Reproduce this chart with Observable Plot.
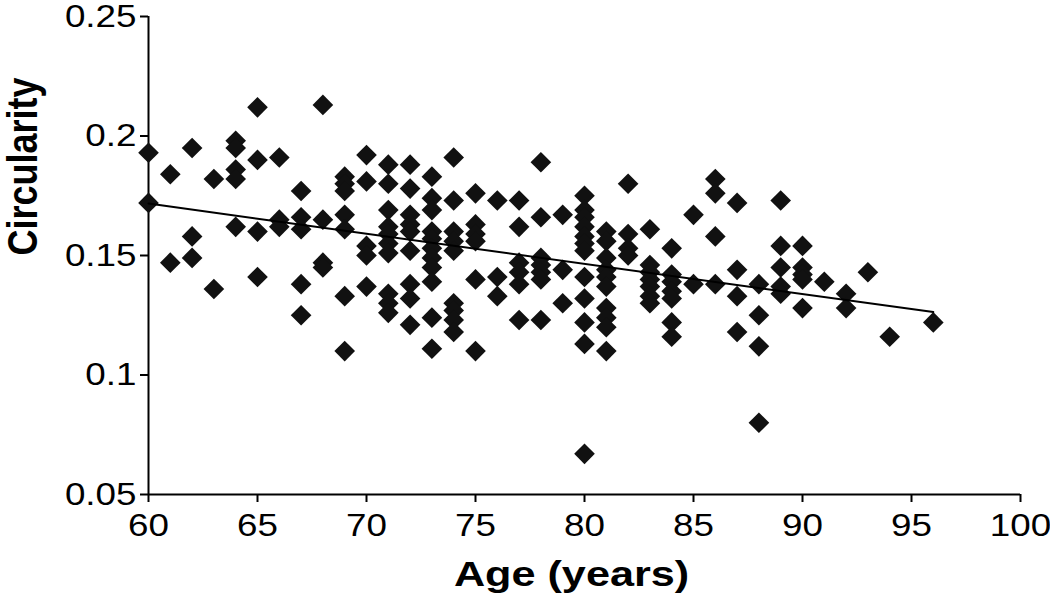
<!DOCTYPE html>
<html>
<head>
<meta charset="utf-8">
<script src="https://cdn.jsdelivr.net/npm/d3@7"></script>
<script src="https://cdn.jsdelivr.net/npm/@observablehq/plot@0.6"></script>
<style>
  html, body { margin: 0; padding: 0; background: #fff; }
</style>
</head>
<body>
<div id="chart"></div>
<script>
// Age (years) of each subject
const ages = [
  60, 60,
  61, 61,
  62, 62, 62,
  63, 63,
  64, 64, 64, 64, 64,
  65, 65, 65, 65,
  66, 66, 66,
  67, 67, 67, 67, 67,
  68, 68, 68, 68,
  69, 69, 69, 69, 69, 69, 69,
  70, 70, 70, 70, 70,
  71, 71, 71, 71, 71, 71, 71, 71, 71, 71,
  72, 72, 72, 72, 72, 72, 72, 72, 72,
  73, 73, 73, 73, 73, 73, 73, 73, 73, 73, 73,
  74, 74, 74, 74, 74, 74, 74, 74, 74,
  75, 75, 75, 75, 75, 75,
  76, 76, 76,
  77, 77, 77, 77, 77, 77,
  78, 78, 78, 78, 78, 78, 78,
  79, 79, 79,
  80, 80, 80, 80, 80, 80, 80, 80, 80, 80, 80, 80,
  81, 81, 81, 81, 81, 81, 81, 81, 81, 81,
  82, 82, 82, 82,
  83, 83, 83, 83, 83, 83, 83,
  84, 84, 84, 84, 84, 84, 84,
  85, 85,
  86, 86, 86, 86,
  87, 87, 87, 87,
  88, 88, 88, 88,
  89, 89, 89, 89, 89,
  90, 90, 90, 90, 90,
  91,
  92, 92,
  93,
  94,
  96
];
// Circularity of each subject (same order as ages)
const circularity = [
  0.193, 0.172,
  0.184, 0.147,
  0.195, 0.158, 0.149,
  0.182, 0.136,
  0.198, 0.195, 0.186, 0.182, 0.162,
  0.212, 0.190, 0.160, 0.141,
  0.191, 0.165, 0.162,
  0.177, 0.166, 0.161, 0.138, 0.125,
  0.213, 0.165, 0.147, 0.145,
  0.183, 0.180, 0.177, 0.167, 0.161, 0.133, 0.110,
  0.192, 0.181, 0.154, 0.150, 0.137,
  0.188, 0.180, 0.169, 0.162, 0.159, 0.155, 0.151, 0.134, 0.130, 0.126,
  0.188, 0.178, 0.167, 0.163, 0.160, 0.152, 0.138, 0.132, 0.121,
  0.183, 0.174, 0.169, 0.160, 0.157, 0.153, 0.149, 0.145, 0.139, 0.124, 0.111,
  0.191, 0.173, 0.160, 0.156, 0.152, 0.130, 0.127, 0.123, 0.118,
  0.176, 0.163, 0.159, 0.156, 0.140, 0.110,
  0.173, 0.141, 0.133,
  0.173, 0.162, 0.147, 0.143, 0.138, 0.123,
  0.189, 0.166, 0.149, 0.146, 0.143, 0.140, 0.123,
  0.167, 0.144, 0.130,
  0.175, 0.169, 0.166, 0.162, 0.158, 0.155, 0.152, 0.141, 0.132, 0.122, 0.113, 0.067,
  0.160, 0.156, 0.149, 0.144, 0.141, 0.137, 0.128, 0.124, 0.120, 0.110,
  0.180, 0.159, 0.153, 0.150,
  0.161, 0.146, 0.143, 0.140, 0.137, 0.133, 0.130,
  0.153, 0.142, 0.139, 0.135, 0.132, 0.122, 0.116,
  0.167, 0.138,
  0.182, 0.176, 0.158, 0.138,
  0.172, 0.144, 0.133, 0.118,
  0.138, 0.125, 0.112, 0.080,
  0.173, 0.154, 0.145, 0.137, 0.134,
  0.154, 0.145, 0.142, 0.140, 0.128,
  0.139,
  0.134, 0.128,
  0.143,
  0.116,
  0.122
];
const xTicks = [60, 65, 70, 75, 80, 85, 90, 95, 100];
const yTicks = [0.05, 0.1, 0.15, 0.2, 0.25];
const xTitle = "Age (years)";
const yTitle = "Circularity";

const data = ages.map((a, i) => ({age: a, circ: circularity[i]}));

const svg = Plot.plot({
  width: 1050,
  height: 602,
  marginLeft: 148,
  marginRight: 30,
  marginTop: 16,
  marginBottom: 108,
  x: {domain: [60, 100]},
  y: {domain: [0.05, 0.25]},
  style: {fontFamily: "'Liberation Sans', Arial, sans-serif", fontSize: "32px", color: "#000", background: "#fff", overflow: "visible"},
  marks: [
    Plot.axisX({ticks: xTicks, tickFormat: d => `${d}`, tickSize: 8, tickPadding: 11, label: null, strokeWidth: 2, fontSize: 32}),
    Plot.axisY({ticks: yTicks, tickFormat: d => `${d}`, tickSize: 8, tickPadding: 4, label: null, strokeWidth: 2, fontSize: 32}),
    Plot.ruleX([60], {stroke: "#000", strokeWidth: 2}),
    Plot.ruleY([0.05], {stroke: "#000", strokeWidth: 2}),
    Plot.dot(data, {x: "age", y: "circ", symbol: "diamond2", r: 9.3, fill: "#111", stroke: "none"}),
    Plot.linearRegressionY(data, {x: "age", y: "circ", stroke: "#000", strokeWidth: 2, ci: 0}),
    Plot.text([xTitle], {text: d => d, frameAnchor: "bottom", dx: -13, dy: 91, fontWeight: "bold", fontSize: 36}),
    Plot.text([yTitle], {text: d => d, frameAnchor: "left", dx: -125, rotate: -90, fontWeight: "bold", fontSize: 36})
  ]
});

// the reference rendering is stretched horizontally: widen glyphs around their anchor
d3.select(svg).selectAll("text").each(function() {
  const t = this.getAttribute("transform") || "";
  const isTitle = this.textContent === xTitle || this.textContent === yTitle;
  const s = isTitle ? 1.2 : 1.15;
  if (/rotate\(-90\)/.test(t)) {
    this.setAttribute("transform", t + ` scale(1,${s})`);
  } else {
    let x = parseFloat(this.getAttribute("x"));
    if (!isFinite(x)) x = 0;
    this.setAttribute("transform", `${t} translate(${x},0) scale(${s},1) translate(${-x},0)`);
  }
});

document.getElementById("chart").appendChild(svg);
</script>
</body>
</html>
